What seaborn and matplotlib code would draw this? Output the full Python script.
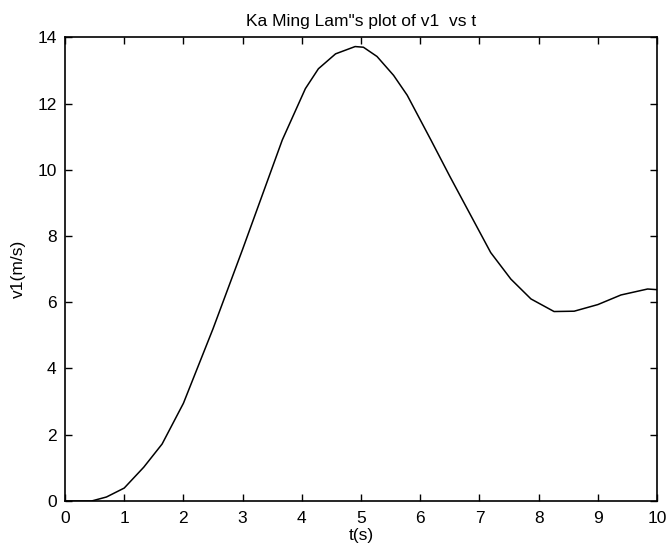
import matplotlib
matplotlib.use("Agg")
import matplotlib.pyplot as plt
import seaborn as sns
import pandas as pd
from matplotlib import font_manager

t = [0.0, 0.45, 0.7, 1.0, 1.33, 1.64, 2.0, 2.5, 3.0, 3.67, 4.06, 4.28, 4.57,
     4.9, 5.04, 5.27, 5.55, 5.78, 6.18, 6.5, 7.19, 7.53, 7.87, 8.26, 8.6,
     9.0, 9.39, 9.84, 10.0]
v1 = [0.0, 0.0, 0.12, 0.39, 1.02, 1.72, 2.95, 5.2, 7.6, 10.9, 12.45, 13.05, 13.5,
      13.72, 13.7, 13.42, 12.85, 12.25, 10.9, 9.8, 7.5, 6.7, 6.1, 5.72, 5.73,
      5.93, 6.22, 6.4, 6.38]
xticks = list(range(0, 11))
yticks = list(range(0, 15, 2))

sns.set_theme(style="white")
names = {f.name for f in font_manager.fontManager.ttflist}
fam = "Liberation Sans Narrow" if "Liberation Sans Narrow" in names else "Liberation Sans"
plt.rcParams["font.family"] = [fam, "DejaVu Sans"]

df = pd.DataFrame({"t": t, "v1": v1})

fig = plt.figure(figsize=(6.66, 5.54), dpi=100)
ax = fig.add_axes([0.0976, 0.0957, 0.889, 0.837])
sns.lineplot(data=df, x="t", y="v1", ax=ax, color="black", linewidth=1.1)

ax.set_xlim(0, 10)
ax.set_ylim(0, 14)
ax.set_xticks(xticks)
ax.set_yticks(yticks)
ax.tick_params(direction="in", length=5, width=1, colors="black",
               labelsize=12.5, top=True, right=True, bottom=True, left=True)
ax.tick_params(axis="x", pad=7)
ax.tick_params(axis="y", pad=6)
for s in ax.spines.values():
    s.set_color("black")
    s.set_linewidth(1.2)
ax.set_xlabel("t(s)", fontsize=12.5, color="black", labelpad=2)
ax.set_ylabel("v1(m/s)", fontsize=12.5, color="black", labelpad=8)
ax.set_title("Ka Ming Lam\"s plot of v1  vs t", fontsize=12.5, color="black", pad=8)

fig.savefig("out.png", dpi=100, facecolor="white")
